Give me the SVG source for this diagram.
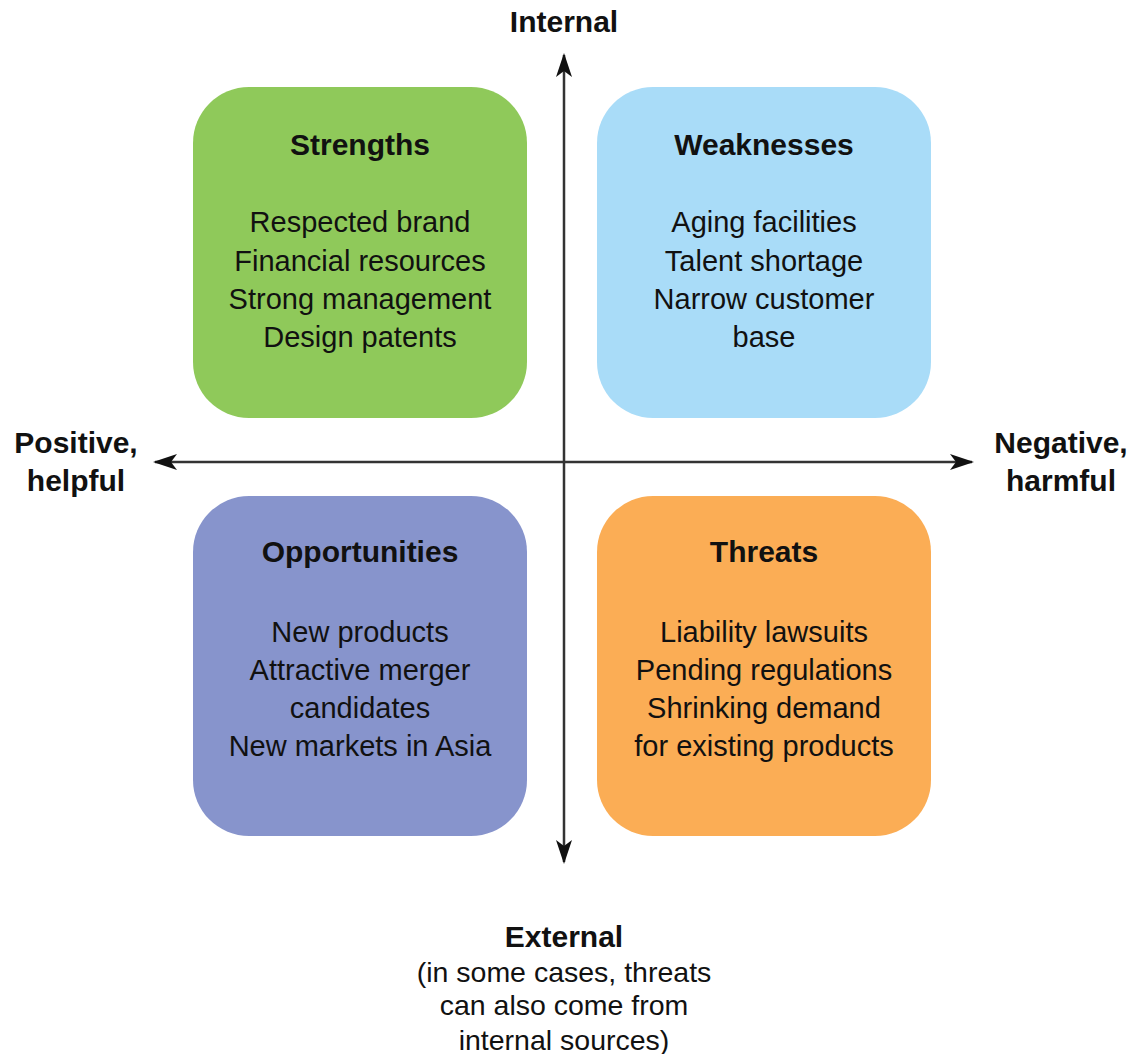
<svg xmlns="http://www.w3.org/2000/svg" width="1135" height="1054" viewBox="0 0 1135 1054">
<style>
text{font-family:"Liberation Sans",Arial,sans-serif;fill:#111;text-anchor:middle}
.t{font-weight:bold;font-size:30px}
.i{font-size:29px}
.ax{font-weight:bold;font-size:30px}
.ex{font-size:28.5px}
.ln{stroke:#333;stroke-width:2.5;fill:none}
</style>
<defs>
<marker id="ah" viewBox="0 0 24 16" refX="22" refY="8" markerWidth="24" markerHeight="16" markerUnits="userSpaceOnUse" orient="auto-start-reverse">
<path d="M0,0 L24,8 L0,16 L6,8 Z" fill="#111"/>
</marker>
</defs>
<rect width="1135" height="1054" fill="#fff"/>
<g id="connectors">
<line class="ln" x1="564" y1="55" x2="564" y2="862" marker-start="url(#ah)" marker-end="url(#ah)"/>
<line class="ln" x1="155" y1="462" x2="972" y2="462" marker-start="url(#ah)" marker-end="url(#ah)"/>
</g>
<g id="strengths">
<rect x="193" y="87" width="334" height="331" rx="56" fill="#8fc95a"/>
<text class="t" x="360" y="155">Strengths</text>
<text class="i" x="360" y="232">Respected brand</text>
<text class="i" x="360" y="271">Financial resources</text>
<text class="i" x="360" y="309">Strong management</text>
<text class="i" x="360" y="347">Design patents</text>
</g>
<g id="weaknesses">
<rect x="597" y="87" width="334" height="331" rx="56" fill="#a9dcf8"/>
<text class="t" x="764" y="155">Weaknesses</text>
<text class="i" x="764" y="232">Aging facilities</text>
<text class="i" x="764" y="271">Talent shortage</text>
<text class="i" x="764" y="309">Narrow customer</text>
<text class="i" x="764" y="347">base</text>
</g>
<g id="opportunities">
<rect x="193" y="496" width="334" height="340" rx="56" fill="#8794cc"/>
<text class="t" x="360" y="562">Opportunities</text>
<text class="i" x="360" y="642">New products</text>
<text class="i" x="360" y="680">Attractive merger</text>
<text class="i" x="360" y="718">candidates</text>
<text class="i" x="360" y="756">New markets in Asia</text>
</g>
<g id="threats">
<rect x="597" y="496" width="334" height="340" rx="56" fill="#fbad55"/>
<text class="t" x="764" y="562">Threats</text>
<text class="i" x="764" y="642">Liability lawsuits</text>
<text class="i" x="764" y="680">Pending regulations</text>
<text class="i" x="764" y="718">Shrinking demand</text>
<text class="i" x="764" y="756">for existing products</text>
</g>
<g id="labels">
<text class="ax" x="564" y="32">Internal</text>
<text class="ax" x="76" y="453">Positive,</text>
<text class="ax" x="76" y="491">helpful</text>
<text class="ax" x="1061" y="453">Negative,</text>
<text class="ax" x="1061" y="491">harmful</text>
<text class="ax" x="564" y="947">External</text>
<text class="ex" x="564" y="982">(in some cases, threats</text>
<text class="ex" x="564" y="1015">can also come from</text>
<text class="ex" x="564" y="1050">internal sources)</text>
</g>
</svg>
